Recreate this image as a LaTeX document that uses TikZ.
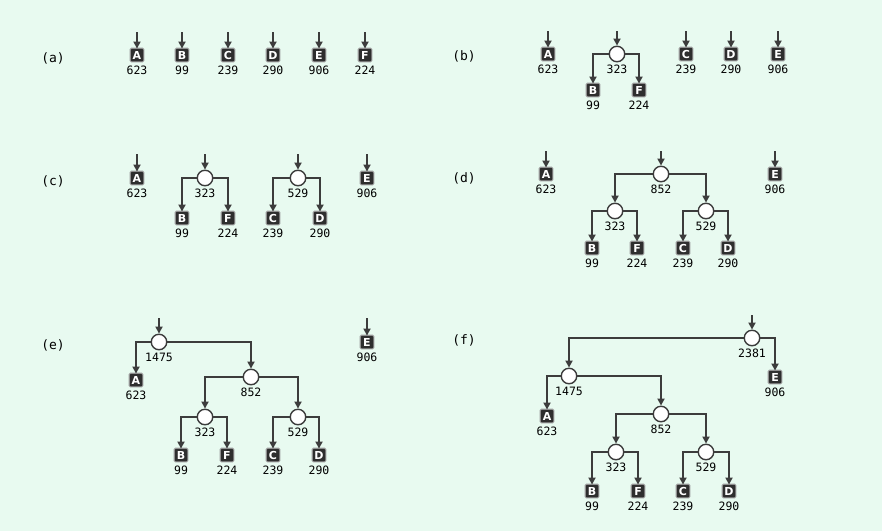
\documentclass[tikz,border=0pt]{standalone}
\usepackage{fontspec}
\newfontfamily\monof{DejaVu Sans Mono}
\newfontfamily\letf{DejaVu Sans}
\usetikzlibrary{arrows.meta}
\definecolor{bgc}{HTML}{E8FAF0}
\definecolor{linec}{HTML}{3C3C3C}
\definecolor{sqc}{HTML}{2E2E2E}
\definecolor{glowc}{HTML}{9E9E9E}
\tikzset{
  leaf/.style={rectangle, fill=sqc, draw=none, rounded corners=1pt, minimum size=12.5pt, inner sep=0pt, text=white, font=\letf\bfseries\fontsize{11}{11}\selectfont,
    preaction={draw=glowc, line width=2.4pt}},
  inode/.style={circle, draw=linec, fill=white, line width=1.4pt, minimum size=15.5pt, inner sep=0pt},
  num/.style={font=\monof\fontsize{11.5}{12}\selectfont, text=black, inner sep=0pt},
  plabel/.style={font=\monof\fontsize{13}{13}\selectfont, text=black, inner sep=0pt},
  edge/.style={draw=linec, line width=1.7pt, -{Triangle[length=7pt,width=7pt]}},
}
% leaf: name, x, y, letter, number
\newcommand\lf[5]{\node[leaf] (#1) at (#2,#3) {#4}; \node[num] (#1n) at (#2,#3+15.5) {#5};}
% inner: name, x, y, number
\newcommand\inn[4]{\node[inode] (#1) at (#2,#3) {}; \node[num] (#1n) at (#2,#3+15) {#4};}
% incoming arrow: node name, x, ytop
\newcommand\inarr[3]{\coordinate (#1t) at (#2,#3); \draw[edge] (#1t) -- (#1);}
\begin{document}
\begin{tikzpicture}[x=1pt,y=-1pt]
\fill[bgc] (0,0) rectangle (882,531);
\useasboundingbox (0,0) rectangle (882,531);

% ---------- (a)
\node[plabel] (la) at (53,58) {(a)};
\lf{aA}{137}{55}{A}{623} \inarr{aA}{137}{32}
\lf{aB}{182}{55}{B}{99}  \inarr{aB}{182}{32}
\lf{aC}{228}{55}{C}{239} \inarr{aC}{228}{32}
\lf{aD}{273}{55}{D}{290} \inarr{aD}{273}{32}
\lf{aE}{319}{55}{E}{906} \inarr{aE}{319}{32}
\lf{aF}{365}{55}{F}{224} \inarr{aF}{365}{32}

% ---------- (b)
\node[plabel] (lb) at (464,56) {(b)};
\lf{bA}{548}{54}{A}{623} \inarr{bA}{548}{31}
\inn{bX}{617}{54}{323} \inarr{bX}{617}{31}
\lf{bB}{593}{90}{B}{99}
\lf{bF}{639}{90}{F}{224}
\draw[edge] (bX) -| (bB);
\draw[edge] (bX) -| (bF);
\lf{bC}{686}{54}{C}{239} \inarr{bC}{686}{31}
\lf{bD}{731}{54}{D}{290} \inarr{bD}{731}{31}
\lf{bE}{778}{54}{E}{906} \inarr{bE}{778}{31}

% ---------- (c)
\node[plabel] (lc) at (53,181) {(c)};
\lf{cA}{137}{178}{A}{623} \inarr{cA}{137}{154}
\inn{cX}{205}{178}{323} \inarr{cX}{205}{154}
\lf{cB}{182}{218}{B}{99}
\lf{cF}{228}{218}{F}{224}
\draw[edge] (cX) -| (cB);
\draw[edge] (cX) -| (cF);
\inn{cY}{298}{178}{529} \inarr{cY}{298}{154}
\lf{cC}{273}{218}{C}{239}
\lf{cD}{320}{218}{D}{290}
\draw[edge] (cY) -| (cC);
\draw[edge] (cY) -| (cD);
\lf{cE}{367}{178}{E}{906} \inarr{cE}{367}{154}

% ---------- (d)
\node[plabel] (ld) at (464,178) {(d)};
\lf{dA}{546}{174}{A}{623} \inarr{dA}{546}{151}
\inn{dZ}{661}{174}{852} \inarr{dZ}{661}{151}
\inn{dX}{615}{211}{323}
\inn{dY}{706}{211}{529}
\draw[edge] (dZ) -| (dX);
\draw[edge] (dZ) -| (dY);
\lf{dB}{592}{248}{B}{99}
\lf{dF}{637}{248}{F}{224}
\lf{dC}{683}{248}{C}{239}
\lf{dD}{728}{248}{D}{290}
\draw[edge] (dX) -| (dB);
\draw[edge] (dX) -| (dF);
\draw[edge] (dY) -| (dC);
\draw[edge] (dY) -| (dD);
\lf{dE}{775}{174}{E}{906} \inarr{dE}{775}{151}

% ---------- (e)
\node[plabel] (le) at (53,345) {(e)};
\inn{eW}{159}{342}{1475} \inarr{eW}{159}{318}
\lf{eA}{136}{380}{A}{623}
\inn{eZ}{251}{377}{852}
\draw[edge] (eW) -| (eA);
\draw[edge] (eW) -| (eZ);
\inn{eX}{205}{417}{323}
\inn{eY}{298}{417}{529}
\draw[edge] (eZ) -| (eX);
\draw[edge] (eZ) -| (eY);
\lf{eB}{181}{455}{B}{99}
\lf{eF}{227}{455}{F}{224}
\lf{eC}{273}{455}{C}{239}
\lf{eD}{319}{455}{D}{290}
\draw[edge] (eX) -| (eB);
\draw[edge] (eX) -| (eF);
\draw[edge] (eY) -| (eC);
\draw[edge] (eY) -| (eD);
\lf{eE}{367}{342}{E}{906} \inarr{eE}{367}{318}

% ---------- (f)
\node[plabel] (lf) at (464,340) {(f)};
\inn{fV}{752}{338}{2381} \inarr{fV}{752}{315}
\lf{fE}{775}{377}{E}{906}
\inn{fW}{569}{376}{1475}
\draw[edge] (fV) -| (fW);
\draw[edge] (fV) -| (fE);
\lf{fA}{547}{416}{A}{623}
\inn{fZ}{661}{414}{852}
\draw[edge] (fW) -| (fA);
\draw[edge] (fW) -| (fZ);
\inn{fX}{616}{452}{323}
\inn{fY}{706}{452}{529}
\draw[edge] (fZ) -| (fX);
\draw[edge] (fZ) -| (fY);
\lf{fB}{592}{491}{B}{99}
\lf{fF}{638}{491}{F}{224}
\lf{fC}{683}{491}{C}{239}
\lf{fD}{729}{491}{D}{290}
\draw[edge] (fX) -| (fB);
\draw[edge] (fX) -| (fF);
\draw[edge] (fY) -| (fC);
\draw[edge] (fY) -| (fD);
\end{tikzpicture}
\end{document}
